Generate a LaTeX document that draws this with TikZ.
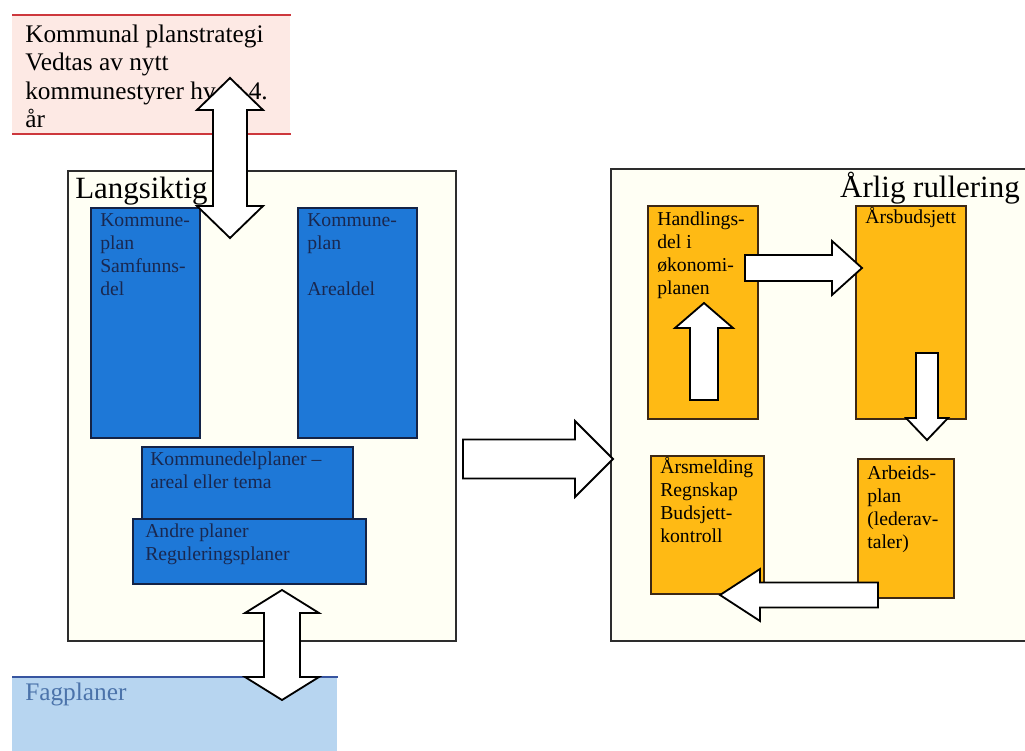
\documentclass[tikz,border=0pt]{standalone}
\usepackage{fontspec}
\setmainfont{Liberation Serif}
\usepackage{tikz}
\usetikzlibrary{calc}

\definecolor{strategipink}{RGB}{253,233,228}
\definecolor{strategired}{RGB}{205,55,60}
\definecolor{frameivory}{RGB}{255,255,244}
\definecolor{framegray}{RGB}{45,45,45}
\definecolor{planblue}{RGB}{30,120,215}
\definecolor{planedge}{RGB}{20,35,70}
\definecolor{plantext}{RGB}{25,40,80}
\definecolor{budgetorange}{RGB}{255,186,20}
\definecolor{budgetedge}{RGB}{60,40,20}
\definecolor{fagblue}{RGB}{183,213,240}
\definecolor{fagline}{RGB}{55,85,160}
\definecolor{fagtext}{RGB}{75,115,170}

% lines of a box text, baseline at the first line
\newcommand{\boxlines}[1]{\begin{tabular}[t]{@{}l@{}}#1\end{tabular}}

% block arrow: tail, tip, half shaft, half head, head length (px)
\newcommand{\blockarrow}[5]{%
  \coordinate (ba-c) at ($(#2)!#5*0.025cm!(#1)$);
  \draw[blockarr] ($(#1)!#3*0.025cm!90:(#2)$) -- ($(ba-c)!#3*0.025cm!90:(#2)$) -- ($(ba-c)!#4*0.025cm!90:(#2)$) -- (#2)
    -- ($(ba-c)!#4*0.025cm!-90:(#2)$) -- ($(ba-c)!#3*0.025cm!-90:(#2)$) -- ($(#1)!#3*0.025cm!-90:(#2)$) -- cycle;}
% block arrow with two heads
\newcommand{\dblockarrow}[5]{%
  \coordinate (ba-a) at ($(#1)!#5*0.025cm!(#2)$);
  \coordinate (ba-b) at ($(#2)!#5*0.025cm!(#1)$);
  \draw[blockarr] (#1) -- ($(ba-a)!#4*0.025cm!90:(#2)$) -- ($(ba-a)!#3*0.025cm!90:(#2)$) -- ($(ba-b)!#3*0.025cm!90:(#2)$) -- ($(ba-b)!#4*0.025cm!90:(#2)$) -- (#2)
    -- ($(ba-b)!#4*0.025cm!-90:(#2)$) -- ($(ba-b)!#3*0.025cm!-90:(#2)$) -- ($(ba-a)!#3*0.025cm!-90:(#2)$) -- ($(ba-a)!#4*0.025cm!-90:(#2)$) -- cycle;}

\begin{document}
\begin{tikzpicture}[
  x=0.025cm, y=-0.025cm,
  frame/.style={draw=framegray, line width=1.3pt, fill=frameivory, anchor=north west, inner sep=0pt},
  planbox/.style={draw=planedge, line width=1.2pt, fill=planblue, anchor=north west, inner sep=0pt},
  budgetbox/.style={draw=budgetedge, line width=1.2pt, fill=budgetorange, anchor=north west, inner sep=0pt},
  boxtext/.style={anchor=base west, inner sep=0pt, font=\fontsize{14}{16.5}\selectfont},
  title/.style={font=\fontsize{22}{26}\selectfont, inner sep=0pt},
  blockarr/.style={draw=black, line width=1.3pt, fill=white, line join=miter}
]
\useasboundingbox (0,0) rectangle (1025,750);

% Planstrategi
\node[fill=strategipink, anchor=north west, inner sep=0pt, minimum width=278*0.025cm, minimum height=118*0.025cm] (strategi) at (12,15) {};
\draw[strategired, line width=1.5pt] (strategi.north west) -- (strategi.north east);
\draw[strategired, line width=1.5pt] (strategi.south west) -- (strategi.south east);
\node[anchor=base west, inner sep=0pt, font=\fontsize{18}{20.3}\selectfont] (strategitekst) at (25,42)
  {\boxlines{Kommunal planstrategi\\Vedtas av nytt\\kommunestyrer hvert 4.\\år}};

% Frames
\node[frame, minimum width=388*0.025cm, minimum height=470*0.025cm] (langsiktig) at (67,170) {};
\node[title, anchor=base west] (langsiktigtittel) at (75,198) {Langsiktig};
\node[frame, minimum width=430*0.025cm, minimum height=472*0.025cm] (rullering) at (610,168) {};
\node[title, anchor=base east] (rulleringtittel) at (1020,197) {Årlig rullering};

% Plans
\node[planbox, minimum width=109*0.025cm, minimum height=230*0.025cm] (samfunnsdel) at (90,207) {};
\node[planbox, minimum width=119*0.025cm, minimum height=230*0.025cm] (arealdel) at (297,207) {};
\node[planbox, minimum width=211*0.025cm, minimum height=72*0.025cm] (delplaner) at (141,446) {};
\node[planbox, minimum width=233*0.025cm, minimum height=65*0.025cm] (andreplaner) at (132,518) {};
\node[boxtext, text=plantext] (samfunnsdeltekst) at ($(samfunnsdel.north west)+(10,19)$) {\boxlines{Kommune-\\plan\\Samfunns-\\del}};
\node[boxtext, text=plantext] (arealdeltekst) at ($(arealdel.north west)+(10,19)$) {\boxlines{Kommune-\\plan\\ \\Arealdel}};
\node[boxtext, text=plantext] (delplanertekst) at ($(delplaner.north west)+(9,19)$) {\boxlines{Kommunedelplaner –\\areal eller tema}};
\node[boxtext, text=plantext] (andreplanertekst) at ($(andreplaner.north west)+(13,19)$) {\boxlines{Andre planer\\Reguleringsplaner}};

% Yearly cycle
\node[budgetbox, minimum width=110*0.025cm, minimum height=213*0.025cm] (handling) at (647,205) {};
\node[budgetbox, minimum width=110*0.025cm, minimum height=213*0.025cm] (budsjett) at (855,205) {};
\node[budgetbox, minimum width=113*0.025cm, minimum height=138*0.025cm] (arsmelding) at (650,455) {};
\node[budgetbox, minimum width=96*0.025cm, minimum height=139*0.025cm] (arbeidsplan) at (857,458) {};
\node[boxtext] (handlingtekst) at ($(handling.north west)+(10,20)$) {\boxlines{Handlings-\\del i\\økonomi-\\planen}};
\node[boxtext] (budsjetttekst) at ($(budsjett.north west)+(10,18)$) {Årsbudsjett};
\node[boxtext] (arsmeldingtekst) at ($(arsmelding.north west)+(10,18)$) {\boxlines{Årsmelding\\Regnskap\\Budsjett-\\kontroll}};
\node[boxtext] (arbeidsplantekst) at ($(arbeidsplan.north west)+(10,21)$) {\boxlines{Arbeids-\\plan\\(lederav-\\taler)}};

% Fagplaner
\node[fill=fagblue, anchor=north west, inner sep=0pt, minimum width=325*0.025cm, minimum height=80*0.025cm] (fagplaner) at (12,677) {};
\draw[fagline, line width=1.2pt] (fagplaner.north west) -- (fagplaner.north east);
\node[anchor=base west, inner sep=0pt, text=fagtext, font=\fontsize{18}{21}\selectfont] (fagplanertekst) at (25,700) {Fagplaner};

% Arrows
\coordinate (strat-top) at (230,78);
\coordinate (strat-bot) at (230,238);
\coordinate (fag-top) at (282,590);
\coordinate (fag-bot) at (282,700);
\coordinate (mid-tail) at (463,459);
\coordinate (mid-tip) at (613,459);
\coordinate (opp-tail) at (704,400);
\coordinate (opp-tip) at (704,303);
\coordinate (hoyre-tail) at (745,268);
\coordinate (hoyre-tip) at (862,268);
\coordinate (ned-tail) at (927,353);
\coordinate (ned-tip) at (927,440);
\coordinate (venstre-tail) at (878,595);
\coordinate (venstre-tip) at (720,595);

\dblockarrow{strat-top}{strat-bot}{17}{33}{32}
\dblockarrow{fag-top}{fag-bot}{18}{37}{23}
\blockarrow{mid-tail}{mid-tip}{19.5}{38}{38}
\blockarrow{opp-tail}{opp-tip}{14}{29}{25}
\blockarrow{hoyre-tail}{hoyre-tip}{13}{27}{30}
\blockarrow{ned-tail}{ned-tip}{11}{21}{22}
\blockarrow{venstre-tail}{venstre-tip}{12.5}{26}{40}

\end{tikzpicture}
\end{document}
